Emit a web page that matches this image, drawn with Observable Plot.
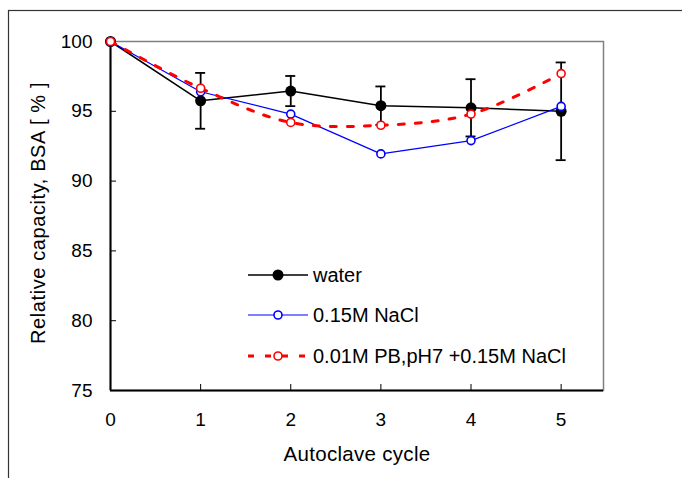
<!DOCTYPE html>
<html>
<head>
<meta charset="utf-8">
<script src="https://cdn.jsdelivr.net/npm/d3@7"></script>
<script src="https://cdn.jsdelivr.net/npm/@observablehq/plot@0.6"></script>
<style>
  html, body { margin: 0; padding: 0; background: #fff; }
  #chart { position: relative; width: 682px; height: 478px; overflow: hidden; }
  #chart svg g[aria-label="y-axis tick label"] text,
  #chart svg g[aria-label="x-axis tick label"] text { font-size: 19px !important; }
  #chart svg g[aria-label="x-axis label"] text { font-size: 20.5px !important; letter-spacing: 0.3px; }
  #chart svg g.legend text { font-size: 20px !important; text-anchor: start !important; }
  #chart svg text.ylabel { font-size: 20px !important; text-anchor: middle !important; letter-spacing: 0.6px; }
</style>
</head>
<body>
<div id="chart"></div>
<script>
// ---- data ----
const cycles   = [0, 1, 2, 3, 4, 5];
const water    = [100, 95.75, 96.45, 95.4, 95.25, 95.0];
const waterErr = [0, 2.0, 1.08, 1.38, 2.05, 3.5];
const nacl     = [100, 96.4, 94.8, 91.95, 92.9, 95.35];
const pb       = [100, 96.65, 94.2, 94.0, 94.8, 97.7];
const seriesNames = ["water", "0.15M NaCl", "0.01M PB,pH7 +0.15M NaCl"];
const seriesColors = ["#000000", "#0000ff", "#ff0000"];
const xTicks = [0, 1, 2, 3, 4, 5];
const yTicks = [75, 80, 85, 90, 95, 100];
const xLabel = "Autoclave cycle";
const yLabel = "Relative capacity, BSA [ % ]";

const rows = cycles.map((c, i) => ({
  cycle: c, water: water[i], lo: water[i] - waterErr[i], hi: water[i] + waterErr[i],
  nacl: nacl[i], pb: pb[i]
}));
const errRows = rows.filter((r, i) => waterErr[i] > 0);

const font = "'Liberation Sans', Arial, sans-serif";

const plot = Plot.plot({
  width: 682,
  height: 478,
  marginLeft: 110,
  marginRight: 79,
  marginTop: 41,
  marginBottom: 88,
  style: { fontFamily: font, fontSize: "19px", color: "#000", background: "#fff" },
  x: { domain: [0, 5.47] },
  y: { domain: [75, 100] },
  marks: [
    Plot.frame({ stroke: "#808080", strokeWidth: 1.5 }),
    Plot.ruleX([0], { stroke: "#000", strokeWidth: 2 }),
    Plot.ruleY([75], { stroke: "#000", strokeWidth: 2 }),
    Plot.ruleY(yTicks.filter(t => t > 75 && t < 100), { y: d => d, x1: 0, x2: 0, insetRight: -6, stroke: "#000", strokeWidth: 1 }),
    Plot.ruleX(xTicks.filter(t => t > 0), { x: d => d, y1: 75, y2: 75, insetTop: -6, stroke: "#000", strokeWidth: 1 }),
    Plot.axisY(yTicks, { tickSize: 0, tickPadding: 18, label: null }),
    Plot.axisX(xTicks, { tickSize: 0, tickPadding: 22, label: xLabel, labelAnchor: "center", labelOffset: 70, labelArrow: "none" }),
    // water
    Plot.line(rows, { x: "cycle", y: "water", stroke: seriesColors[0], strokeWidth: 1.5 }),
    Plot.ruleX(errRows, { x: "cycle", y1: "lo", y2: "hi", stroke: "#000", strokeWidth: 1.8 }),
    Plot.ruleY(errRows, { y: "hi", x1: "cycle", x2: "cycle", insetLeft: -5, insetRight: -5, stroke: "#000", strokeWidth: 1.8 }),
    Plot.ruleY(errRows, { y: "lo", x1: "cycle", x2: "cycle", insetLeft: -5, insetRight: -5, stroke: "#000", strokeWidth: 1.8 }),
    Plot.dot(rows, { x: "cycle", y: "water", r: 5.5, fill: seriesColors[0], stroke: "none" }),
    // 0.15M NaCl
    Plot.line(rows, { x: "cycle", y: "nacl", stroke: seriesColors[1], strokeWidth: 1.2 }),
    Plot.dot(rows, { x: "cycle", y: "nacl", r: 4, fill: "#fff", stroke: seriesColors[1], strokeWidth: 1.6 }),
    // PB
    Plot.line(rows, { x: "cycle", y: "pb", stroke: seriesColors[2], strokeWidth: 3, strokeDasharray: "6,11", curve: "catmull-rom" }),
    Plot.dot(rows, { x: "cycle", y: "pb", r: 4, fill: "#fff", stroke: seriesColors[2], strokeWidth: 1.6 })
  ]
});

document.getElementById("chart").appendChild(plot);

const svg = d3.select(plot);
// outer chart-area border (top & left visible)
svg.insert("rect", ":first-child")
  .attr("x", 8.5).attr("y", 10.5).attr("width", 800).attr("height", 600)
  .attr("fill", "none").attr("stroke", "#333").attr("stroke-width", 1.2);

// y-axis title
svg.append("text").attr("class", "ylabel")
  .attr("transform", "translate(38,213) rotate(-90)")
  .attr("dy", "0.35em").attr("text-anchor", "middle")
  .attr("font-family", font).attr("fill", "#000").text(yLabel);

// legend inside plot area
const legendY = [275, 315, 356];
const lg = svg.append("g").attr("class", "legend").attr("font-family", font).attr("font-size", 20).attr("text-anchor", "start");
seriesNames.forEach((name, i) => {
  const g = lg.append("g").attr("transform", `translate(0,${legendY[i]})`);
  if (i === 2) {
    g.append("line").attr("x1", 248).attr("x2", 308).attr("y1", 0).attr("y2", 0)
      .attr("stroke", seriesColors[i]).attr("stroke-width", 3).attr("stroke-dasharray", "6,11");
  } else {
    g.append("line").attr("x1", 248).attr("x2", 308).attr("y1", 0).attr("y2", 0)
      .attr("stroke", seriesColors[i]).attr("stroke-width", i === 0 ? 1.5 : 1.2);
  }
  g.append("circle").attr("cx", 278).attr("cy", 0).attr("r", i === 0 ? 5.5 : 4)
    .attr("fill", i === 0 ? "#000" : "#fff")
    .attr("stroke", i === 0 ? "none" : seriesColors[i]).attr("stroke-width", 1.6);
  g.append("text").attr("x", 313).attr("y", 0).attr("dy", "0.35em")
    .attr("text-anchor", "start").attr("fill", "#000").text(name);
});
</script>
</body>
</html>
